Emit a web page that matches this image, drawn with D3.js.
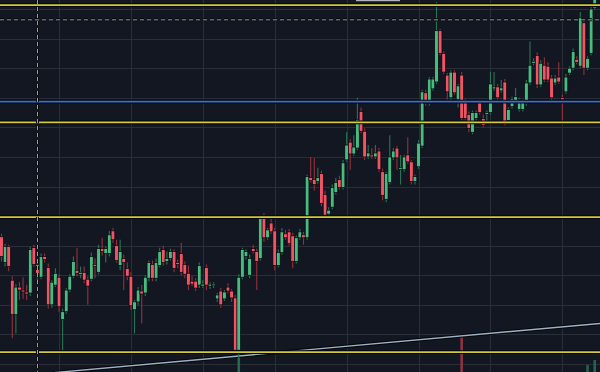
<!doctype html>
<html lang="en">
<head>
<meta charset="utf-8">
<title>Candles</title>
<script src="https://cdnjs.cloudflare.com/ajax/libs/d3/7.8.5/d3.min.js"></script>
<style>
  html, body { margin: 0; padding: 0; background: #131722; overflow: hidden; }
  svg { display: block; }
</style>
</head>
<body>
<svg id="chart" width="600" height="372"></svg>
<script>
// candle data (one grid step = 30 units)
var open = [129,103,119,85,50,78,75,73,72,118, 101,88,109,98,60,80,88,45,53,75,
  89,95,91,93,86,86,101,93,117,112, 112,135,120,100,107,97,89,55,63,74,
  72,87,101,87,100,116,104,107,114,103, 112,101,92,84,84,80,79,98,79,80,
  66,74,66,78,74,67,14,88,109,90, 117,114,107,148,128,143,135,100,113,132,
  134,130,104,128,131,128,189,187,185,193, 172,152,159,174,187,179,207,225,213,219,
  256,236,210,212,210,216,195,167,184,209, 219,198,197,212,205,185,200,221,275,264,
  279,286,338,315,293,270,296,268,293,266, 253,235,249,265,249,253,255,279,281,277,
  286,247,261,267,258,258,264,285,305,313, 283,303,302,290,285,291,270,276,295,300,
  309,302,346,300,315,361];
var high = [132,122,121,89,81,83,88,80,119,121, 103,112,112,102,85,97,91,56,77,91,
  109,118,99,99,89,113,107,121,128,119, 135,138,126,126,111,103,93,65,78,80,
  90,105,105,107,118,120,114,117,116,106, 123,104,100,89,87,103,85,101,83,83,
  72,77,75,82,76,70,91,118,116,111, 121,117,150,153,138,148,138,116,138,136,
  137,133,130,137,134,192,210,209,199,196, 176,159,182,189,191,207,235,228,232,270,
  260,239,222,219,222,219,198,195,232,219, 221,212,212,230,207,192,227,278,278,291,
  291,367,340,317,295,298,298,284,296,269, 256,257,257,268,253,257,296,296,284,288,
  289,260,271,280,270,268,288,327,310,316, 308,311,306,293,293,306,273,294,302,320,
  312,357,351,312,362,379];
var low = [104,99,94,26,31,65,66,65,69,99, 82,86,103,56,57,78,53,14,51,73,
  87,89,87,82,60,84,87,91,110,103, 109,123,103,95,75,85,55,31,60,41,
  69,84,84,84,98,100,101,105,93,97, 90,87,75,79,74,77,77,75,76,77,
  63,57,64,72,63,12,-14,86,106,87, 112,75,105,124,126,132,95,98,111,126,
  120,97,102,126,121,126,184,176,183,160, 149,149,157,172,177,177,205,197,211,217,
  234,207,208,208,208,195,166,164,182,207, 197,182,195,203,182,182,198,219,262,262,
  277,284,313,294,268,268,273,260,247,247, 235,233,247,253,240,245,253,277,268,275,
  242,245,259,265,256,256,262,283,303,280, 281,286,286,268,283,284,245,274,293,298,
  304,300,293,298,313,359];
var close = [109,119,99,50,78,75,73,71,116,101, 88,109,106,60,83,92,58,53,75,89,
  104,92,93,85,79,109,99,117,114,117, 131,126,105,114,103,89,59,63,75,71,
  88,103,87,103,114,103,107,114,97,101, 93,91,80,81,77,100,81,80,81,81,
  70,60,73,74,67,14,88,116,114,107, 114,104,148,128,136,134,100,113,134,128,
  122,104,128,134,128,190,186,182,189,163, 151,156,179,184,179,204,222,213,220,248,
  236,210,214,210,214,197,171,193,210,216, 209,199,210,205,185,190,224,276,264,289,
  289,338,315,296,276,296,275,282,249,249, 239,255,255,255,242,255,284,281,270,280,
  244,258,269,271,268,265,285,303,307,283, 305,288,288,270,290,286,268,291,300,317,
  306,351,300,310,360,379];

// the few volume bars that reach into view
var volIdx = [66, 128, 163, 165];
var volVal = [21, 36, 7, 12];

// drawn levels
var priceGrid = d3.range(0, 361, 30);
var timeGrid = [16, 36, 56, 76, 96, 116, 136, 156];
var yellowLevels = [364, 245, 149, 12];
var blueLevel = 266;
var crossIdx = 10, crossPrice = 349;
var trendIdx = [20, 160], trendPrice = [-7, 39];

var W = 600, H = 372;
var svg = d3.select("#chart");
svg.append("rect").attr("width", W).attr("height", H).attr("fill", "#131722");

var x = d3.scaleLinear().domain([0, 165]).range([1.5, 594.7]);
var y = d3.scaleLinear().domain([0, 360]).range([364, 9]);
var yVol = d3.scaleLinear().domain([0, 100]).range([H, H - 100]);

// grid
var grid = svg.append("g").attr("stroke", "#2a2e39").attr("stroke-width", 1).attr("shape-rendering", "crispEdges");
grid.selectAll(".h").data(priceGrid).enter().append("line")
  .attr("x1", 0).attr("x2", W)
  .attr("y1", function(d) { return Math.round(y(d)) + 0.5; })
  .attr("y2", function(d) { return Math.round(y(d)) + 0.5; });
grid.selectAll(".v").data(timeGrid).enter().append("line")
  .attr("y1", 0).attr("y2", H)
  .attr("x1", function(d) { return Math.round(x(d)) + 0.5; })
  .attr("x2", function(d) { return Math.round(x(d)) + 0.5; });

// volume
svg.append("g").selectAll("rect").data(volIdx).enter().append("rect")
  .attr("x", function(d) { return x(d) - 1.3; })
  .attr("width", 2.6)
  .attr("y", function(d, i) { return yVol(volVal[i]); })
  .attr("height", function(d, i) { return H - yVol(volVal[i]); })
  .attr("fill", function(d) { return close[d] >= open[d] ? "#24634b" : "#8b3340"; });

// horizontal level with a dark edge
function level(p, color) {
  var yy = y(p);
  svg.append("line").attr("x1", 0).attr("x2", W).attr("y1", yy).attr("y2", yy)
    .attr("stroke", "#05070b").attr("stroke-width", 3.8);
  svg.append("line").attr("x1", 0).attr("x2", W).attr("y1", yy).attr("y2", yy)
    .attr("stroke", color).attr("stroke-width", 1.7);
}

// trend line
var tl = [[x(trendIdx[0]), y(trendPrice[0])], [x(trendIdx[1]), y(trendPrice[1])]];
var slope = (tl[1][1] - tl[0][1]) / (tl[1][0] - tl[0][0]);
var tx1 = tl[0][0] - 20, tx2 = W;
var ty1 = tl[0][1] + slope * (tx1 - tl[0][0]), ty2 = tl[0][1] + slope * (tx2 - tl[0][0]);
svg.append("line").attr("x1", tx1).attr("y1", ty1).attr("x2", tx2).attr("y2", ty2)
  .attr("stroke", "#05070b").attr("stroke-width", 3.5);
svg.append("line").attr("x1", tx1).attr("y1", ty1).attr("x2", tx2).attr("y2", ty2)
  .attr("stroke", "#9fb1c4").attr("stroke-width", 1.4);

// candles
var idx = d3.range(open.length);
var upBody = "#47bb82", dnBody = "#f05466", upWick = "#2b7355", dnWick = "#96303e";
var g = svg.append("g");
g.selectAll(".wick").data(idx).enter().append("line")
  .attr("x1", function(i) { return x(i); }).attr("x2", function(i) { return x(i); })
  .attr("y1", function(i) { return y(Math.max(high[i], open[i], close[i])); })
  .attr("y2", function(i) { return y(Math.min(low[i], open[i], close[i])); })
  .attr("stroke", function(i) { return close[i] >= open[i] ? upWick : dnWick; })
  .attr("stroke-width", 1.1);
g.selectAll(".body").data(idx).enter().append("rect")
  .attr("x", function(i) { return x(i) - 1.85; })
  .attr("width", 3.7)
  .attr("y", function(i) { return y(Math.max(open[i], close[i])); })
  .attr("height", function(i) { return Math.max(1.6, Math.abs(y(open[i]) - y(close[i]))); })
  .attr("fill", function(i) { return close[i] >= open[i] ? upBody : dnBody; })
  .attr("stroke", "#05070b").attr("stroke-width", 0.7);

// horizontal levels on top
yellowLevels.forEach(function(p) { level(p, "#d2c93c"); });
level(blueLevel, "#3b6fd8");

// crosshair
var cx = x(crossIdx), cy = y(crossPrice);
svg.append("line").attr("x1", 0).attr("x2", W).attr("y1", cy).attr("y2", cy)
  .attr("stroke", "#05070b").attr("stroke-width", 3).attr("stroke-dasharray", "4,3");
svg.append("line").attr("x1", 0).attr("x2", W).attr("y1", cy).attr("y2", cy)
  .attr("stroke", "#9a9da6").attr("stroke-width", 1).attr("stroke-dasharray", "4,3");
svg.append("line").attr("x1", cx).attr("x2", cx).attr("y1", 0).attr("y2", H)
  .attr("stroke", "#05070b").attr("stroke-width", 3).attr("stroke-dasharray", "4,3");
svg.append("line").attr("x1", cx).attr("x2", cx).attr("y1", 0).attr("y2", H)
  .attr("stroke", "#a6a9b1").attr("stroke-width", 1).attr("stroke-dasharray", "4,3");

// bit of a label poking in at the top
svg.append("rect").attr("x", 356).attr("y", 0).attr("width", 44).attr("height", 1.2).attr("fill", "#b2b5be");
</script>
</body>
</html>
